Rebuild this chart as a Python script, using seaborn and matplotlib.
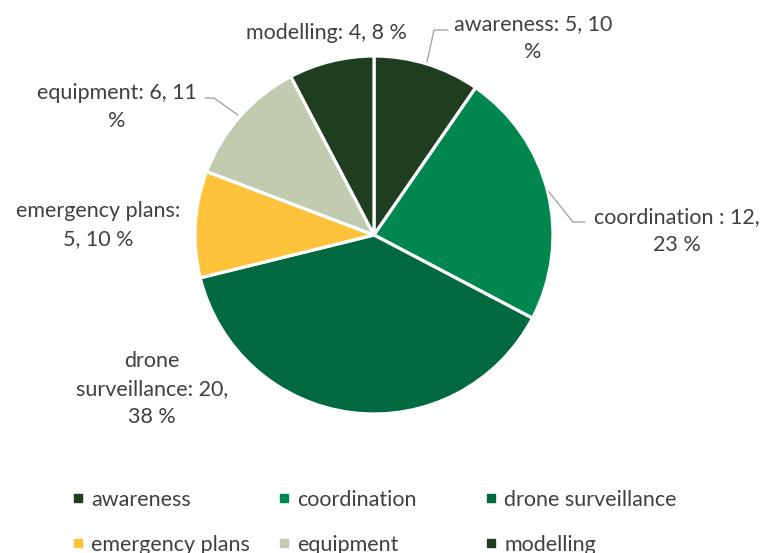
import matplotlib
matplotlib.use("Agg")
import matplotlib.pyplot as plt
from matplotlib.lines import Line2D
import seaborn as sns

# Topic counts and their shown shares
topics = ["awareness", "coordination", "drone surveillance",
          "emergency plans", "equipment", "modelling"]
counts = [5, 12, 20, 5, 6, 4]
shares = [10, 23, 38, 10, 11, 8]
colors = ["#1f3d1f", "#00874f", "#006940", "#fec33a", "#c1cbb0", "#1f3d1f"]

# Wrapped label layouts for each slice
label_formats = [
    "{t}: {c}, {p}\n%",
    "{t} : {c},\n{p} %",
    "drone\nsurveillance: {c},\n{p} %",
    "{t}:\n{c}, {p} %",
    "{t}: {c}, {p}\n%",
    "{t}: {c}, {p} %",
]

sns.set_theme(style="white")
plt.rcParams["font.family"] = ["Lato", "DejaVu Sans"]

W, H = 763, 553
fig = plt.figure(figsize=(W / 100, H / 100), dpi=100)
fig.patch.set_facecolor("white")

# pie centre and radius in pixels
cx, cy, r = 374, 235, 179
ax = fig.add_axes([(cx - r) / W, (H - cy - r) / H, 2 * r / W, 2 * r / H])
ax.pie(counts, colors=colors, startangle=90, counterclock=False,
       wedgeprops=dict(edgecolor="white", linewidth=2.3))
ax.set_xlim(-1, 1)
ax.set_ylim(-1, 1)
ax.set_aspect("equal")
ax.axis("off")


def to_data(px, py):
    return (px - cx) / r, (cy - py) / r


text_color = "#404040"
fs = 15.5
label_pos = [(533, 38), (677, 231), (152, 389), (98, 225), (117, 107), (326, 33)]
for i, (t, c, p) in enumerate(zip(topics, counts, shares)):
    x, y = to_data(*label_pos[i])
    ax.text(x, y, label_formats[i].format(t=t, c=c, p=p), ha="center",
            va="center", fontsize=fs, color=text_color, linespacing=1.5,
            clip_on=False)

# leader lines
leaders = [
    [(448, 30), (434, 30), (427, 62)],
    [(549, 192), (573, 222), (585, 222)],
    [(205, 98), (214, 98), (238, 115)],
]
for pts in leaders:
    xs, ys = zip(*[to_data(px, py) for px, py in pts])
    ax.plot(xs, ys, color="#a6a6a6", lw=1.0, clip_on=False)

# legend: three columns of two entries each
handles = [Line2D([], [], marker="s", linestyle="none", markersize=6,
                  markerfacecolor=col, markeredgecolor=col) for col in colors]
col_x = [61, 267, 474]
for j in range(3):
    idx = [j, j + 3]
    fig.legend([handles[k] for k in idx], [topics[k] for k in idx],
               loc="upper left", bbox_to_anchor=(col_x[j] / W, 1 - 479 / H),
               frameon=False, fontsize=fs, handlelength=0.6,
               handletextpad=0.3, labelspacing=1.15, borderpad=0,
               labelcolor=text_color)

fig.savefig("out.png", dpi=100, facecolor="white")
